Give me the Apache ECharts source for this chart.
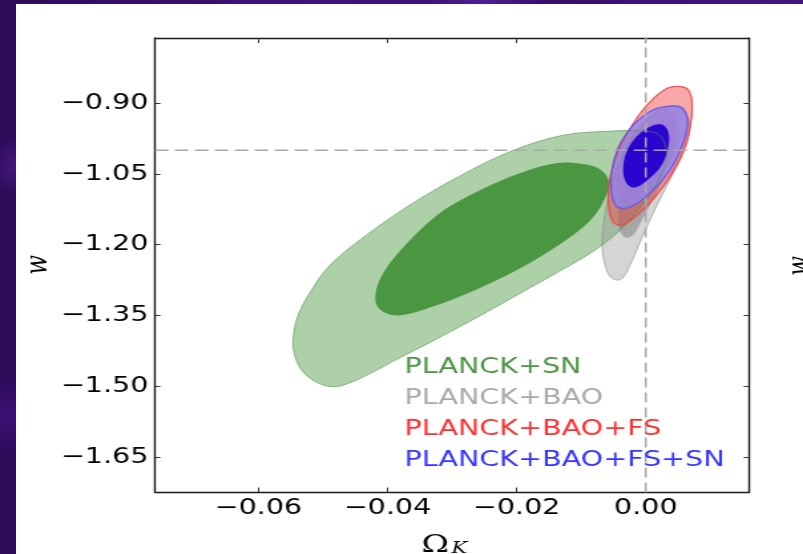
<!DOCTYPE html>
<html>
<head>
<meta charset="utf-8">
<script src="https://cdn.jsdelivr.net/npm/echarts@6/dist/echarts.min.js"></script>
<style>
  html, body { margin: 0; padding: 0; width: 803px; height: 554px; overflow: hidden; }
  body {
    background:
      radial-gradient(circle at 2% 30%, rgba(95, 40, 170, 0.45) 0, rgba(0,0,0,0) 30px),
      radial-gradient(circle at 1% 75%, rgba(80, 25, 150, 0.5) 0, rgba(0,0,0,0) 40px),
      radial-gradient(circle at 60% 0%, rgba(100, 45, 180, 0.5) 0, rgba(0,0,0,0) 60px),
      linear-gradient(90deg, #2c0b58, #3f1478 40%, #36106a 70%, #441780);
  }
  #panel { position: absolute; left: 16px; top: 4px; width: 787px; height: 550px; background: #fff; }
  /* the figure is drawn narrow and widened horizontally */
  #chart { position: absolute; left: 0; top: 0; width: 604px; height: 554px;
           transform: scaleX(1.3295); transform-origin: 0 0; }
</style>
</head>
<body>
<div id="panel"></div>
<div id="chart"></div>
<script>
// Axis ranges and tick positions
const omegaKRange = [-0.076, 0.016];
const wRange = [-1.725, -0.762];
const omegaKTicks = [-0.06, -0.04, -0.02, 0.0];
const wTicks = [-0.90, -1.05, -1.20, -1.35, -1.50, -1.65];

// Fiducial reference values (flat, cosmological constant)
const refOmegaK = 0.0;
const refW = -1.0;

// Confidence contours: [Omega_K, w] vertices of each region boundary
const snOuter = [[-0.0050,-0.959],[-0.0008,-0.959],[0.0015,-0.963],[0.0027,-0.978],[0.0032,-0.999],[0.0031,-1.027],[0.0018,-1.067],[-0.0005,-1.115],[-0.0039,-1.168],[-0.0078,-1.211],[-0.0124,-1.249],[-0.0179,-1.291],[-0.0256,-1.350],[-0.0334,-1.407],[-0.0380,-1.439],[-0.0427,-1.473],[-0.0461,-1.494],[-0.0485,-1.501],[-0.0512,-1.490],[-0.0533,-1.465],[-0.0545,-1.427],[-0.0545,-1.386],[-0.0537,-1.345],[-0.0518,-1.297],[-0.0490,-1.245],[-0.0440,-1.187],[-0.0362,-1.113],[-0.0282,-1.050],[-0.0205,-1.000],[-0.0128,-0.968]];
const snInner = [[-0.0070,-1.041],[-0.0057,-1.066],[-0.0062,-1.098],[-0.0081,-1.141],[-0.0112,-1.179],[-0.0179,-1.238],[-0.0256,-1.291],[-0.0334,-1.333],[-0.0385,-1.350],[-0.0411,-1.338],[-0.0419,-1.310],[-0.0406,-1.259],[-0.0369,-1.196],[-0.0318,-1.132],[-0.0256,-1.084],[-0.0194,-1.048],[-0.0137,-1.027],[-0.0097,-1.029]];

const baoOuter = [[0.0041,-0.906],[0.0060,-0.919],[0.0068,-0.946],[0.0065,-0.982],[0.0054,-1.020],[0.0035,-1.069],[0.0014,-1.126],[-0.0007,-1.189],[-0.0024,-1.242],[-0.0039,-1.274],[-0.0055,-1.268],[-0.0066,-1.225],[-0.0067,-1.175],[-0.0062,-1.126],[-0.0052,-1.069],[-0.0033,-1.005],[-0.0008,-0.952],[0.0017,-0.919]];
const baoInner = [[0.0038,-0.931],[0.0051,-0.952],[0.0049,-0.988],[0.0035,-1.037],[0.0015,-1.094],[-0.0004,-1.143],[-0.0019,-1.179],[-0.0031,-1.185],[-0.0041,-1.166],[-0.0042,-1.120],[-0.0033,-1.062],[-0.0014,-1.003],[0.0010,-0.955]];

const fsOuter = [[0.0054,-0.865],[0.0066,-0.872],[0.0072,-0.900],[0.0069,-0.950],[0.0054,-1.014],[0.0027,-1.077],[-0.0004,-1.126],[-0.0035,-1.158],[-0.0050,-1.153],[-0.0058,-1.111],[-0.0055,-1.056],[-0.0042,-0.999],[-0.0019,-0.942],[0.0007,-0.897],[0.0034,-0.868]];
const fsInner = [[0.0031,-0.910],[0.0045,-0.927],[0.0046,-0.961],[0.0035,-1.010],[0.0015,-1.056],[-0.0011,-1.096],[-0.0033,-1.109],[-0.0045,-1.090],[-0.0045,-1.046],[-0.0033,-0.993],[-0.0011,-0.946],[0.0010,-0.916]];

const fsSnOuter = [[0.0043,-0.906],[0.0058,-0.912],[0.0065,-0.940],[0.0058,-0.984],[0.0038,-1.041],[0.0007,-1.090],[-0.0024,-1.120],[-0.0044,-1.120],[-0.0053,-1.090],[-0.0053,-1.048],[-0.0042,-0.993],[-0.0019,-0.946],[0.0012,-0.914]];
const fsSnInner = [[0.0026,-0.946],[0.0035,-0.961],[0.0035,-0.993],[0.0023,-1.035],[-0.0001,-1.067],[-0.0019,-1.079],[-0.0031,-1.067],[-0.0035,-1.035],[-0.0027,-0.995],[-0.0008,-0.963],[0.0010,-0.948]];

// Legend entries
const datasetNames = ['PLANCK+SN', 'PLANCK+BAO', 'PLANCK+BAO+FS', 'PLANCK+BAO+FS+SN'];
const datasetColors = ['#4a9641', '#a9a9a9', '#ff3030', '#3535ff'];

const FONT = 'DejaVu Sans';
const tickFmt = v => (v < -1e-9 ? '\u2212' : '') + Math.abs(v).toFixed(2);

function region(name, pts, style, z) {
  return {
    type: 'custom', name: name, z: z, silent: true,
    coordinateSystem: 'cartesian2d',
    data: pts, encode: { x: 0, y: 1 },
    renderItem: function (params, api) {
      if (params.dataIndex !== 0) return null;
      return {
        type: 'polygon',
        shape: { points: pts.map(p => api.coord(p)), smooth: 0.35 },
        style: style
      };
    }
  };
}

function axisX(position, labels) {
  return {
    type: 'value', position: position,
    min: omegaKRange[0], max: omegaKRange[1],
    axisLine: { show: true, onZero: false, lineStyle: { color: '#1a1a1a', width: 1.4 } },
    axisTick: { show: true, inside: true, length: 5, customValues: omegaKTicks, lineStyle: { color: '#333', width: 1 } },
    axisLabel: { show: labels, customValues: omegaKTicks, formatter: tickFmt,
                 fontFamily: FONT, fontSize: 21.5, color: '#000', margin: 5 },
    splitLine: { show: false }
  };
}
function axisY(position, labels) {
  return {
    type: 'value', position: position,
    min: wRange[0], max: wRange[1],
    axisLine: { show: true, onZero: false, lineStyle: { color: '#1a1a1a', width: 1.4 } },
    axisTick: { show: true, inside: true, length: 4, customValues: wTicks, lineStyle: { color: '#333', width: 1 } },
    axisLabel: { show: labels, customValues: wTicks, formatter: tickFmt,
                 fontFamily: FONT, fontSize: 21.5, color: '#000', margin: 5 },
    splitLine: { show: false }
  };
}

const dash = { color: '#a8a8a8', width: 1.5, type: [10, 5] };

const series = [
  region(datasetNames[0], snOuter, { fill: 'rgba(74,150,65,0.45)' }, 2),
  region(datasetNames[0], snInner, { fill: '#4a9641' }, 3),
  region(datasetNames[1], baoOuter, { fill: 'rgba(150,150,150,0.4)' }, 4),
  region(datasetNames[1], baoInner, { fill: 'rgba(110,110,110,0.45)' }, 5),
  region(datasetNames[2], fsOuter, { fill: 'rgba(240,80,80,0.5)' }, 6),
  region(datasetNames[2], fsInner, { fill: 'rgba(225,80,80,0.35)' }, 7),
  region(datasetNames[3], fsSnOuter, { fill: 'rgba(140,135,250,0.75)' }, 8),
  region(datasetNames[3], fsSnInner, { fill: '#2a04cf' }, 9),
  // contour outlines on top of the filled regions
  region(datasetNames[0], snOuter, { fill: 'none', stroke: 'rgba(74,150,65,0.6)', lineWidth: 1 }, 10),
  region(datasetNames[1], baoOuter, { fill: 'none', stroke: 'rgba(130,130,130,0.55)', lineWidth: 1 }, 10),
  region(datasetNames[2], fsOuter, { fill: 'none', stroke: 'rgba(240,60,60,0.85)', lineWidth: 1.2 }, 11),
  region(datasetNames[3], fsSnOuter, { fill: 'none', stroke: 'rgba(95,80,240,0.9)', lineWidth: 1.2 }, 11),
  {
    type: 'line', name: 'ref-omegak', z: 12, silent: true, symbol: 'none',
    data: [[refOmegaK, wRange[0]], [refOmegaK, wRange[1]]], lineStyle: dash
  },
  {
    type: 'line', name: 'ref-w', z: 12, silent: true, symbol: 'none',
    data: [[omegaKRange[0], refW], [omegaKRange[1], refW]], lineStyle: dash
  }
];

const legendTexts = datasetNames.map((n, i) => ({
  type: 'text', left: 304.3, top: 369 + 31 * i - 12.5, z: 20,
  style: { text: n, fill: datasetColors[i], font: '21.5px "' + FONT + '"', textVerticalAlign: 'top' }
}));

const option = {
  animation: false,
  grid: { left: 116.6, right: 40.6, top: 38, bottom: 61.5, outerBoundsMode: 'none' },
  xAxis: [axisX('bottom', true), axisX('top', false)],
  yAxis: [axisY('left', true), axisY('right', false)],
  series: series,
  graphic: legendTexts.concat([
    { type: 'text', x: 28.6, y: 265, rotation: Math.PI / 2, z: 20,
      style: { text: 'w', fill: '#000', font: 'italic 23px "DejaVu Serif"', align: 'center', verticalAlign: 'middle' } },
    { type: 'text', x: 317, y: 545, z: 20,
      style: { text: '\u03A9', fill: '#000', font: '25px "DejaVu Serif"', align: 'left', verticalAlign: 'middle' } },
    { type: 'text', x: 339.5, y: 549, z: 20,
      style: { text: 'K', fill: '#000', font: 'italic 16px "DejaVu Serif"', align: 'left', verticalAlign: 'middle' } },
    { type: 'text', x: 602.5, y: 266, rotation: Math.PI / 2, z: 20,
      style: { text: 'w', fill: '#000', font: 'italic 23px "DejaVu Serif"', align: 'center', verticalAlign: 'middle' } }
  ])
};

const chart = echarts.init(document.getElementById('chart'));
chart.setOption(option);
</script>
</body>
</html>
